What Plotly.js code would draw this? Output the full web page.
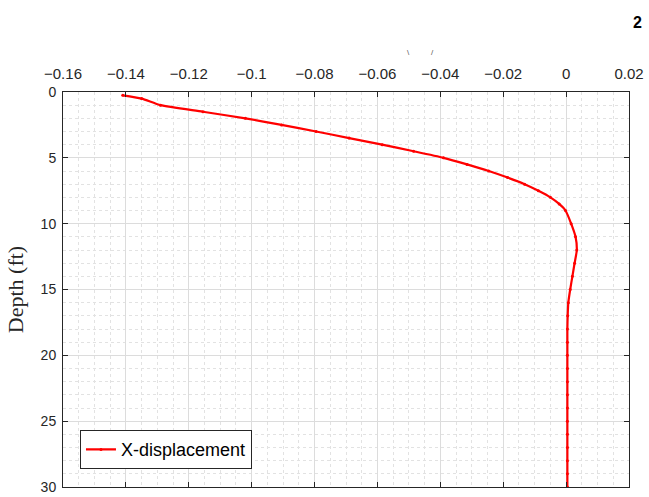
<!DOCTYPE html>
<html>
<head>
<meta charset="utf-8">
<script src="https://cdn.plot.ly/plotly-3.0.1.min.js"></script>
<style>html,body{margin:0;padding:0;background:#fff;}#chart{width:649px;height:497px;}</style>
</head>
<body>
<div id="chart"></div>
<script>
const depth = [0.25, 0.5, 1, 1.5, 2, 2.5, 3, 3.5, 4, 4.5, 5, 5.5, 6, 6.5, 7, 7.5, 8, 8.5, 9, 10, 11, 12, 13, 14, 15, 16, 17, 18, 19, 20, 21, 22, 23, 24, 25, 26, 27, 28, 29, 30];
const xDisp = [-0.141, -0.135, -0.129, -0.1155, -0.102, -0.0905, -0.0795, -0.069, -0.0585, -0.0485, -0.039, -0.0315, -0.0246, -0.0186, -0.0132, -0.0088, -0.0050, -0.0022, -0.0002, 0.0016, 0.003, 0.0034, 0.0027, 0.002, 0.0013, 0.0007, 0.0005, 0.0004, 0.0004, 0.0004, 0.0004, 0.0004, 0.0004, 0.0004, 0.0004, 0.0004, 0.0004, 0.0004, 0.0004, 0.0004];
const seriesName = 'X-displacement';
const xTicks = [-0.16, -0.14, -0.12, -0.1, -0.08, -0.06, -0.04, -0.02, 0, 0.02];
const xTickText = ['\u22120.16', '\u22120.14', '\u22120.12', '\u22120.1', '\u22120.08', '\u22120.06', '\u22120.04', '\u22120.02', '0', '0.02'];
const yTicks = [0, 5, 10, 15, 20, 25, 30];

const trace = {
  x: xDisp, y: depth, name: seriesName, type: 'scatter', mode: 'lines+markers',
  line: {color: '#ff0000', width: 2.2, shape: 'spline', smoothing: 0.6},
  marker: {color: '#ff0000', size: 3}
};

const layout = {
  width: 649, height: 497,
  margin: {l: 63, r: 20, t: 92, b: 10},
  paper_bgcolor: '#ffffff', plot_bgcolor: '#ffffff',
  font: {family: 'Liberation Sans, Arial, sans-serif', size: 14, color: '#262626'},
  showlegend: true,
  legend: {x: 0.03, y: 0.045, xanchor: 'left', yanchor: 'bottom', bgcolor: '#ffffff',
    bordercolor: '#262626', borderwidth: 1, font: {size: 18, color: '#000'}},
  xaxis: {
    side: 'top', range: [-0.16, 0.02], tickvals: xTicks, ticktext: xTickText,
    ticks: 'inside', ticklen: 5, tickcolor: '#262626', mirror: 'ticks',
    showline: true, linecolor: '#262626', linewidth: 1,
    showgrid: true, gridcolor: '#dcdcdc', gridwidth: 1, zeroline: false,
    minor: {dtick: 0.005, tick0: 0, showgrid: true, gridcolor: '#e2e2e2', griddash: 'dot', gridwidth: 1},
    tickfont: {size: 15, color: '#262626'}, ticklabelstandoff: 6
  },
  yaxis: {
    range: [30, 0], tickvals: yTicks,
    ticks: 'inside', ticklen: 5, tickcolor: '#262626', mirror: 'ticks',
    showline: true, linecolor: '#262626', linewidth: 1,
    showgrid: true, gridcolor: '#dcdcdc', gridwidth: 1, zeroline: false,
    minor: {dtick: 1, tick0: 0, showgrid: true, gridcolor: '#e2e2e2', griddash: 'dot', gridwidth: 1},
    tickfont: {size: 14, color: '#262626'}, ticklabelstandoff: 3,
    title: {text: 'Depth (ft)', font: {family: 'Liberation Serif, Times New Roman, serif', size: 22, color: '#262626'}, standoff: 10}
  },
  annotations: [
    {xref: 'paper', yref: 'paper', x: 1.0, y: 1.0, xanchor: 'left', yanchor: 'middle', yshift: 70, xshift: 2,
     text: '<b>2</b>', showarrow: false, font: {size: 16, color: '#000'}},
    {xref: 'paper', yref: 'paper', x: 0.61, y: 1.0, xanchor: 'center', yanchor: 'middle', yshift: 40,
     text: '\\', showarrow: false, font: {size: 8, color: '#555'}},
    {xref: 'paper', yref: 'paper', x: 0.652, y: 1.0, xanchor: 'center', yanchor: 'middle', yshift: 40,
     text: '/', showarrow: false, font: {size: 8, color: '#555'}}
  ]
};

Plotly.newPlot('chart', [trace], layout, {displayModeBar: false, staticPlot: true});
</script>
</body>
</html>
